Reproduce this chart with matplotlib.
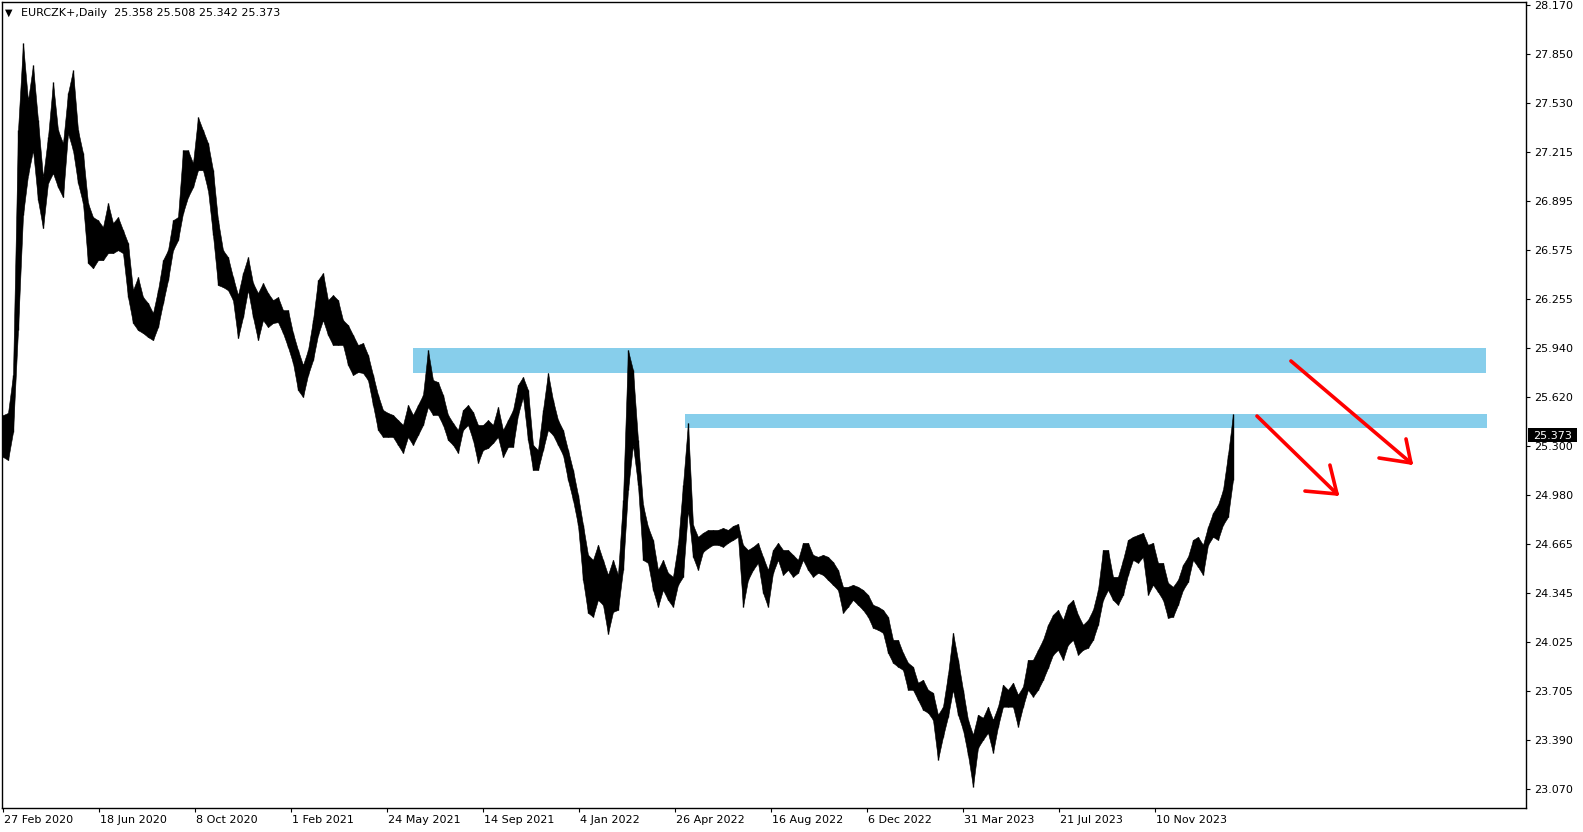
import numpy as np
import matplotlib
matplotlib.use("Agg")
import matplotlib.pyplot as plt
from matplotlib.patches import Rectangle
from matplotlib import transforms

# ---------------- data ----------------
symbol_title = "EURCZK+,Daily"
last_ohlc = [25.358, 25.508, 25.342, 25.373]
last_close = 25.373
last_bar = 1025          # index of the last daily bar (bars since 27 Feb 2020)

# sampled high / low envelope of the daily bars (about every 4 bars)
high = [25.502, 25.516, 25.763, 27.355, 27.921, 27.550, 27.778, 27.420, 27.050, 27.310,
        27.667, 27.355, 27.271, 27.596, 27.745, 27.355, 27.206, 26.881, 26.790, 26.770,
        26.725, 26.881, 26.751, 26.790, 26.705, 26.621, 26.315, 26.400, 26.270, 26.231,
        26.166, 26.315, 26.510, 26.575, 26.770, 26.790, 27.225, 27.225, 27.141, 27.440,
        27.355, 27.271, 27.095, 26.770, 26.575, 26.530, 26.400, 26.283, 26.426, 26.530,
        26.361, 26.296, 26.361, 26.296, 26.250, 26.270, 26.185, 26.185, 26.036, 25.925,
        25.828, 25.925, 26.120, 26.380, 26.426, 26.250, 26.283, 26.250, 26.120, 26.088,
        26.023, 25.958, 25.971, 25.893, 25.763, 25.633, 25.535, 25.516, 25.503, 25.470,
        25.438, 25.568, 25.503, 25.568, 25.633, 25.925, 25.730, 25.717, 25.633, 25.503,
        25.451, 25.405, 25.535, 25.568, 25.522, 25.438, 25.438, 25.470, 25.438, 25.555,
        25.405, 25.470, 25.535, 25.698, 25.750, 25.665, 25.308, 25.275, 25.535, 25.776,
        25.600, 25.470, 25.405, 25.275, 25.145, 24.983, 24.788, 24.593, 24.560, 24.658,
        24.560, 24.463, 24.560, 24.463, 24.950, 25.925, 25.795, 25.340, 24.918, 24.775,
        24.690, 24.495, 24.560, 24.476, 24.450, 24.658, 25.048, 25.450, 24.788, 24.710,
        24.736, 24.755, 24.755, 24.755, 24.768, 24.755, 24.781, 24.794, 24.658, 24.625,
        24.645, 24.671, 24.580, 24.495, 24.625, 24.671, 24.625, 24.625, 24.593, 24.560,
        24.671, 24.671, 24.593, 24.580, 24.593, 24.580, 24.547, 24.495, 24.385, 24.385,
        24.398, 24.385, 24.365, 24.333, 24.268, 24.255, 24.235, 24.190, 24.040, 24.040,
        23.956, 23.891, 23.865, 23.761, 23.780, 23.715, 23.696, 23.553, 23.605, 23.813,
        24.086, 23.910, 23.715, 23.520, 23.423, 23.553, 23.533, 23.605, 23.520, 23.605,
        23.748, 23.715, 23.761, 23.683, 23.735, 23.910, 23.910, 23.975, 24.040, 24.138,
        24.203, 24.235, 24.170, 24.268, 24.300, 24.203, 24.138, 24.170, 24.235, 24.365,
        24.625, 24.625, 24.450, 24.450, 24.560, 24.690, 24.710, 24.723, 24.736, 24.658,
        24.671, 24.541, 24.541, 24.411, 24.385, 24.430, 24.528, 24.580, 24.690, 24.710,
        24.658, 24.775, 24.866, 24.918, 25.015, 25.243, 25.508]

low = [25.230, 25.210, 25.392, 26.055, 26.803, 27.063, 27.225, 26.900, 26.718, 27.011,
       27.076, 26.985, 26.920, 27.336, 27.225, 27.011, 26.881, 26.491, 26.458, 26.510,
       26.510, 26.556, 26.556, 26.575, 26.556, 26.270, 26.101, 26.055, 26.036, 26.010,
       25.990, 26.075, 26.231, 26.380, 26.575, 26.640, 26.816, 26.920, 26.985, 27.095,
       27.095, 26.965, 26.673, 26.348, 26.335, 26.315, 26.250, 26.003, 26.140, 26.315,
       26.140, 25.990, 26.120, 26.075, 26.101, 26.107, 26.036, 25.945, 25.841, 25.665,
       25.620, 25.763, 25.860, 26.023, 26.120, 26.023, 25.958, 25.958, 25.958, 25.828,
       25.763, 25.782, 25.776, 25.730, 25.568, 25.405, 25.360, 25.360, 25.360, 25.308,
       25.256, 25.360, 25.308, 25.373, 25.438, 25.555, 25.503, 25.503, 25.438, 25.340,
       25.308, 25.256, 25.405, 25.438, 25.340, 25.191, 25.275, 25.288, 25.321, 25.360,
       25.230, 25.295, 25.295, 25.503, 25.620, 25.340, 25.145, 25.145, 25.275, 25.405,
       25.373, 25.308, 25.243, 25.080, 24.950, 24.788, 24.430, 24.216, 24.190, 24.300,
       24.268, 24.079, 24.222, 24.235, 24.495, 25.015, 25.308, 25.048, 24.560, 24.541,
       24.365, 24.255, 24.365, 24.300, 24.255, 24.398, 24.450, 24.885, 24.580, 24.495,
       24.612, 24.638, 24.658, 24.658, 24.645, 24.671, 24.690, 24.710, 24.255, 24.430,
       24.495, 24.541, 24.346, 24.255, 24.476, 24.560, 24.463, 24.495, 24.450, 24.476,
       24.560, 24.495, 24.450, 24.476, 24.463, 24.430, 24.398, 24.365, 24.216, 24.255,
       24.300, 24.268, 24.235, 24.190, 24.118, 24.105, 24.086, 23.956, 23.891, 23.865,
       23.845, 23.715, 23.715, 23.650, 23.585, 23.566, 23.520, 23.260, 23.410, 23.540,
       23.715, 23.553, 23.455, 23.293, 23.085, 23.338, 23.390, 23.436, 23.306, 23.475,
       23.605, 23.605, 23.605, 23.475, 23.605, 23.715, 23.670, 23.715, 23.780, 23.858,
       23.943, 23.975, 23.910, 24.008, 24.040, 23.943, 23.975, 23.988, 24.040, 24.138,
       24.300, 24.365, 24.300, 24.268, 24.333, 24.463, 24.560, 24.541, 24.580, 24.333,
       24.398, 24.352, 24.300, 24.183, 24.190, 24.268, 24.365, 24.417, 24.560, 24.515,
       24.463, 24.658, 24.710, 24.690, 24.788, 24.840, 25.080]

date_labels = ["27 Feb 2020", "18 Jun 2020", "8 Oct 2020", "1 Feb 2021", "24 May 2021",
               "14 Sep 2021", "4 Jan 2022", "26 Apr 2022", "16 Aug 2022", "6 Dec 2022",
               "31 Mar 2023", "21 Jul 2023", "10 Nov 2023"]
date_bars = [0, 80, 160, 240, 320, 400, 480, 560, 640, 720, 800, 880, 960]

price_ticks = [28.170, 27.850, 27.530, 27.215, 26.895, 26.575, 26.255, 25.940, 25.620,
               25.300, 24.980, 24.665, 24.345, 24.025, 23.705, 23.390, 23.070]

# resistance zones: (first bar, last bar, bottom price, top price)
zone_upper = (342, 1236, 25.776, 25.939)
zone_lower = (568, 1237, 25.418, 25.508)

# hand-drawn red arrows: (start bar, start price, tip bar, tip price), head ends
arrow_1 = (1045, 25.496, 1111.7, 24.989)
arrow_1_head = [(1105.8, 25.177), (1085.0, 25.008)]
arrow_2 = (1073.3, 25.854, 1173.3, 25.191)
arrow_2_head = [(1169.2, 25.347), (1146.7, 25.223)]

# ---------------- figure ----------------
W, H = 1583, 832
fig = plt.figure(figsize=(W / 100, H / 100), dpi=100)
fig.patch.set_facecolor("white")
ax = fig.add_axes([2 / W, 24 / H, 1524 / W, 806 / H])

FONT = "DejaVu Sans"
FS = 8

bars = np.linspace(0, last_bar, len(high))

# zones (behind price)
for z in (zone_upper, zone_lower):
    ax.add_patch(Rectangle((z[0], z[2]), z[1] - z[0], z[3] - z[2],
                           facecolor="#87CEEB", edgecolor="none", zorder=1))

ax.fill_between(bars, low, high, color="black", linewidth=0.4, zorder=3)
ax.vlines(bars, low, high, color="black", linewidth=1.0, zorder=3)

# arrows
for a, hd in ((arrow_1, arrow_1_head), (arrow_2, arrow_2_head)):
    ax.plot([a[0], a[2]], [a[1], a[3]], color="#FF0000", lw=2.6,
            solid_capstyle="round", zorder=4)
    for hx, hy in hd:
        ax.plot([hx, a[2]], [hy, a[3]], color="#FF0000", lw=2.6,
                solid_capstyle="round", zorder=4)

ax.set_xlim(-0.83, 1269.2)
ax.set_ylim(22.946, 28.1895)

for s in ax.spines.values():
    s.set_color("black")
    s.set_linewidth(1.0)

ax.yaxis.tick_right()
ax.set_yticks(price_ticks)
ax.set_yticklabels([f"{v:.3f}" for v in price_ticks], fontsize=FS, family=FONT)
ax.tick_params(axis="y", direction="out", length=3, width=0.8, pad=2.5, colors="black")

ax.set_xticks(date_bars)
ax.set_xticklabels(date_labels, fontsize=FS, family=FONT, ha="left")
ax.tick_params(axis="x", direction="out", length=3, width=0.8, pad=2, colors="black")
offset = transforms.ScaledTranslation(1 / 100, 0, fig.dpi_scale_trans)
for lbl in ax.get_xticklabels():
    lbl.set_transform(lbl.get_transform() + offset)

# last price marker on the right axis
blend = transforms.blended_transform_factory(ax.transAxes, ax.transData)
box_h = 14 / (806 / (28.1895 - 22.946))
ax.add_patch(Rectangle((1.0013, last_close - box_h / 2), 49 / 1524, box_h,
                       transform=blend, facecolor="black", edgecolor="none",
                       clip_on=False, zorder=6))
ax.text(1.0046, last_close, f"{last_close:.3f}", transform=blend, color="white",
        fontsize=FS, family=FONT, ha="left", va="center_baseline", zorder=7, clip_on=False)

# header
fig.text(9 / W, 1 - 13 / H, "▼", fontsize=7, family=FONT, ha="center", va="center")
fig.text(21 / W, 1 - 12.5 / H,
         symbol_title + "  " + " ".join(f"{v:.3f}" for v in last_ohlc),
         fontsize=FS, family=FONT, ha="left", va="center")

fig.savefig("out.png", dpi=100, facecolor="white")
